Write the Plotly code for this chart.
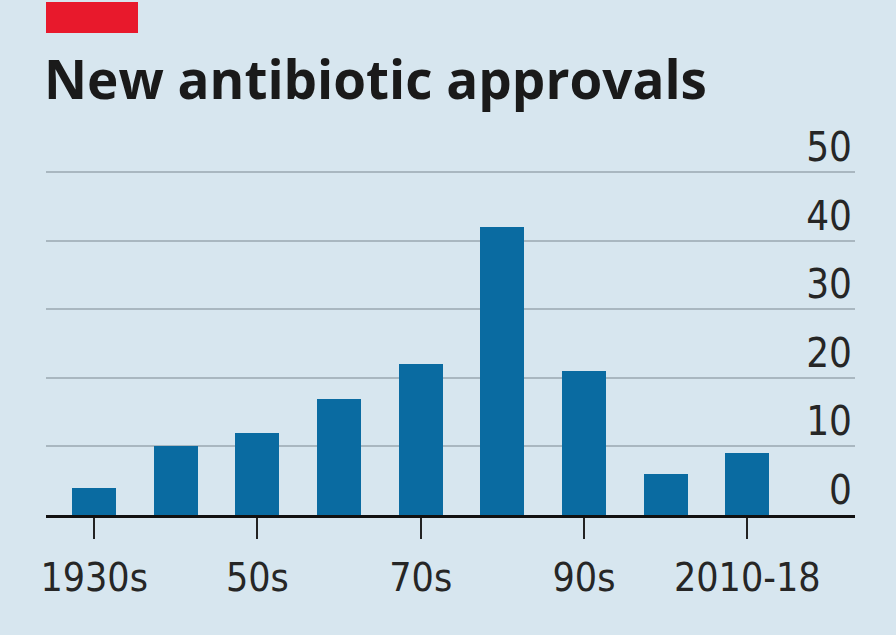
import plotly.graph_objects as go

# Antibiotic approvals per decade
decades = ["1930s", "1940s", "1950s", "1960s", "1970s", "1980s", "1990s", "2000s", "2010-18"]
approvals = [4, 10, 12, 17, 22, 42, 21, 6, 9]

# Labelled decades on the x axis
tick_decades = ["1930s", "1950s", "1970s", "1990s", "2010-18"]
tick_labels = ["1930s", "50s", "70s", "90s", "2010-18"]
y_ticks = [0, 10, 20, 30, 40, 50]
y_max = 50.5

BG = "#d7e6ef"
BAR = "#0a6ba1"
GRID = "#a9b7c0"
TEXT = "#262626"
LABEL_FONT = "Liberation Sans Narrow, DejaVu Sans Condensed, Liberation Sans, sans-serif"

fig = go.Figure(
    go.Bar(
        x=decades,
        y=approvals,
        marker=dict(color=BAR, line=dict(width=0)),
        width=0.54,
        hoverinfo="x+y",
    )
)

fig.update_layout(
    width=896,
    height=635,
    paper_bgcolor=BG,
    plot_bgcolor=BG,
    margin=dict(l=46, r=41, t=169, b=120),
    showlegend=False,
    title=dict(
        text="<b>New antibiotic approvals</b>",
        font=dict(family="Open Sans, sans-serif", size=53, color="#1a1a1a"),
        xref="container",
        yref="container",
        x=44 / 896,
        xanchor="left",
        y=1 - 99 / 635,
        yanchor="bottom",
        pad=dict(l=0, r=0, t=0, b=0),
    ),
    bargap=0,
)

fig.update_xaxes(
    type="category",
    categoryorder="array",
    categoryarray=decades,
    range=[-0.59, 9.32],
    tickmode="array",
    tickvals=tick_decades,
    ticktext=tick_labels,
    ticks="outside",
    ticklen=21,
    tickwidth=2,
    tickcolor="#222222",
    showline=True,
    linecolor="#111111",
    linewidth=3,
    showgrid=False,
    tickfont=dict(family=LABEL_FONT, size=39, color=TEXT),
    ticklabelstandoff=5,
)

fig.update_yaxes(
    range=[0, y_max],
    side="right",
    tickmode="array",
    tickvals=y_ticks,
    ticktext=[str(v) for v in y_ticks],
    ticklabelposition="inside top",
    ticklabeloverflow="allow",
    ticklabelshift=3,
    ticks="",
    showgrid=True,
    gridcolor=GRID,
    gridwidth=2,
    zeroline=False,
    showline=False,
    tickfont=dict(family=LABEL_FONT, size=40, color=TEXT),
)

# Red tag above the title
fig.add_shape(
    type="rect",
    xref="paper",
    yref="paper",
    x0=0,
    x1=(138 - 46) / 809,
    y0=(515 - 33) / 346,
    y1=(515 - 2) / 346,
    fillcolor="#e8192c",
    line=dict(width=0),
    layer="above",
)

fig.write_html("out.html")
